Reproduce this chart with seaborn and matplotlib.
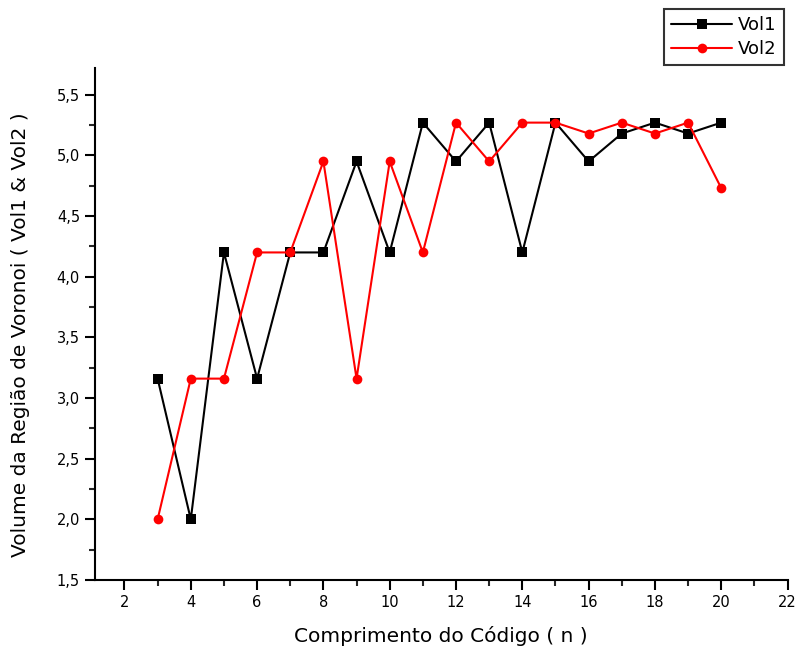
import numpy as np
import pandas as pd
import matplotlib.pyplot as plt
import seaborn as sns
from matplotlib.ticker import MultipleLocator, FuncFormatter

# data
n_values = [3, 4, 5, 6, 7, 8, 9, 10, 11, 12, 13, 14, 15, 16, 17, 18, 19, 20]
vol1 = [3.16, 2.0, 4.2, 3.16, 4.2, 4.2, 4.95, 4.2, 5.27, 4.95, 5.27, 4.2,
        5.27, 4.95, 5.18, 5.27, 5.18, 5.27]
vol2 = [2.0, 3.16, 3.16, 4.2, 4.2, 4.95, 3.16, 4.95, 4.2, 5.27, 4.95, 5.27,
        5.27, 5.18, 5.27, 5.18, 5.27, 4.73]


def main():
    sns.set_theme(style="ticks")
    plt.rcParams['font.family'] = ['DejaVu Sans']
    plt.rcParams.update({'text.color': 'black', 'axes.labelcolor': 'black'})

    df = pd.DataFrame({'n': n_values * 2,
                       'vol': vol1 + vol2,
                       'serie': ['Vol1'] * len(vol1) + ['Vol2'] * len(vol2)})

    fig = plt.figure(figsize=(8.02, 6.61), dpi=100)
    ax = fig.add_axes([0.118, 0.1225, 0.864, 0.7746])

    sns.lineplot(data=df, x='n', y='vol', hue='serie', style='serie',
                 palette={'Vol1': 'black', 'Vol2': 'red'},
                 markers={'Vol1': 's', 'Vol2': 'o'}, dashes=False,
                 markersize=7, markeredgewidth=0, linewidth=1.5, ax=ax)

    ax.set_xlim(1.1, 22)
    ax.set_ylim(1.5, 5.72)
    ax.xaxis.set_major_locator(MultipleLocator(2))
    ax.xaxis.set_minor_locator(MultipleLocator(1))
    ax.yaxis.set_major_locator(MultipleLocator(0.5))
    ax.yaxis.set_minor_locator(MultipleLocator(0.25))
    ax.yaxis.set_major_formatter(FuncFormatter(lambda v, p: f"{v:.1f}".replace('.', ',')))
    ax.set_xticks([2, 4, 6, 8, 10, 12, 14, 16, 18, 20, 22])

    for s in ['top', 'right']:
        ax.spines[s].set_visible(False)
    for s in ['left', 'bottom']:
        ax.spines[s].set_linewidth(1.5)
        ax.spines[s].set_color('black')
    ax.tick_params(which='major', length=7, width=1.5, direction='out', labelsize=10.5, colors='black')
    ax.tick_params(which='minor', length=4, width=1.5, direction='out')

    ax.set_xlabel("Comprimento do Código ( n )", fontsize=14.5)
    ax.set_ylabel("Volume da Região de Voronoi ( Vol1 & Vol2 )", fontsize=14.5)
    ax.xaxis.set_label_coords(0.5, -0.09)
    ax.yaxis.set_label_coords(-0.094, 0.48)

    leg = ax.legend(title=None, loc='upper right', bbox_to_anchor=(0.977, 0.986),
                    bbox_transform=fig.transFigure,
                    frameon=True, fancybox=False, fontsize=13, handlelength=3.4,
                    borderpad=0.4, labelspacing=0.3, handletextpad=0.3,
                    borderaxespad=0)
    leg.get_frame().set_edgecolor('black')
    leg.get_frame().set_linewidth(1.5)

    fig.savefig("out.png", dpi=100)
    plt.close(fig)


if __name__ == "__main__":
    main()
